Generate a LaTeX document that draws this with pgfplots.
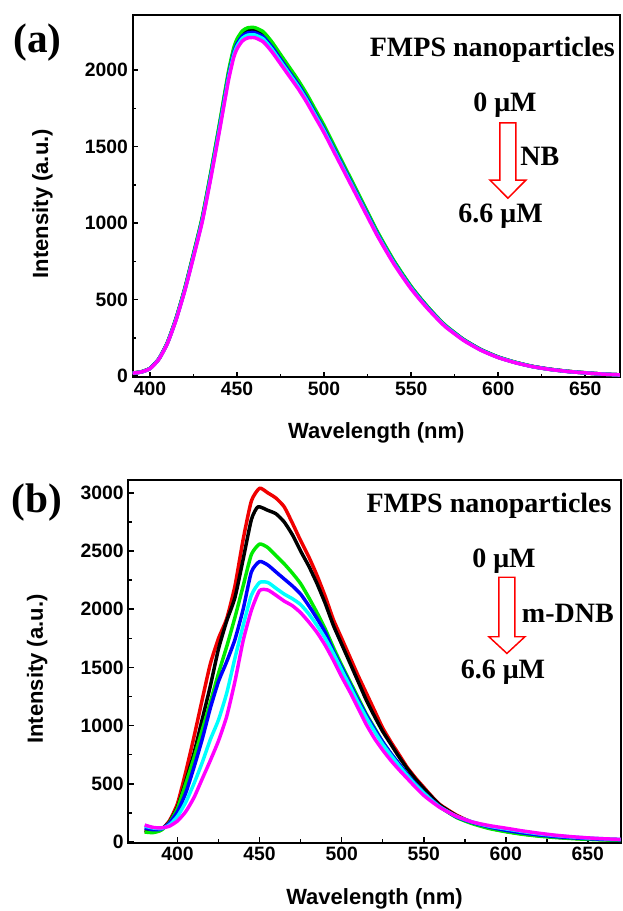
\documentclass[border=0pt]{standalone}
\usepackage{fontspec}
\setmainfont{Liberation Sans}
\newfontfamily\tnr{Liberation Serif}
\usepackage{pgfplots}
\pgfplotsset{compat=1.18}
\definecolor{cgreen}{RGB}{0,235,0}
\definecolor{cblue}{RGB}{0,0,255}
\definecolor{ccyan}{RGB}{0,255,255}
\definecolor{cmag}{RGB}{255,0,255}
\definecolor{cred}{RGB}{240,0,0}
\pgfplotsset{myax/.style={
  scale only axis, clip mode=individual,
  axis line style={line width=1.5pt},
  tick style={line width=1.2pt, black},
  major tick length=4pt, minor tick length=2.5pt,
  tick align=inside, xtick pos=bottom, ytick pos=left,
  minor x tick num=1, minor y tick num=1,
  tick label style={font=\bfseries\fontsize{14.5}{15}\selectfont},
  /pgf/number format/assume math mode=true,
  /pgf/number format/1000 sep={},
  label style={font=\bfseries\fontsize{16.5}{18}\selectfont},
  xlabel={Wavelength (nm)}, ylabel={Intensity (a.u.)},
  every axis x label/.append style={at={(axis description cs:0.5,-0.155)}, anchor=center},
  every axis y label/.append style={at={(axis description cs:-0.185,0.479)}, anchor=center},
  every axis plot/.append style={line width=2.6pt, line join=round, no marks, smooth, tension=0.35},
}}
\newcommand{\ann}[1]{\tnr\bfseries\fontsize{#1}{#1}\selectfont}
\begin{document}
\begin{tikzpicture}
\useasboundingbox (0,0) rectangle (466.5pt,683.25pt);
% ---------------- panel (a)
\begin{axis}[myax, at={(99.5pt,400.5pt)}, anchor=south west,
  width=365.5pt, height=271.5pt,
  xmin=390, xmax=670, ymin=-5, ymax=2360,
  xtick={400,450,...,650}, ytick={0,500,...,2000}]
\addplot[cred] coordinates {(390,20)(395,29)(400,51)(405,112)(410,219)(415,377)(420,570)(425,794)(430,1028)(435,1323)(440,1639)(445,1965)(448,2117)(450,2179)(453,2229)(456,2250)(460,2252)(465,2224)(470,2158)(475,2077)(480,1995)(485,1914)(490,1822)(495,1720)(500,1619)(505,1507)(510,1395)(515,1283)(520,1171)(525,1059)(530,947)(535,845)(540,748)(545,662)(550,580)(555,509)(560,443)(565,382)(570,326)(580,239)(590,173)(600,124)(610,90)(620,63)(630,45)(640,32)(650,22)(660,14)(670,9)};
\addplot[black] coordinates {(390,20)(395,29)(400,51)(405,112)(410,220)(415,378)(420,572)(425,797)(430,1032)(435,1329)(440,1645)(445,1972)(448,2126)(450,2187)(453,2238)(456,2259)(460,2261)(465,2233)(470,2167)(475,2085)(480,2003)(485,1921)(490,1829)(495,1727)(500,1625)(505,1513)(510,1400)(515,1288)(520,1175)(525,1063)(530,950)(535,848)(540,751)(545,664)(550,583)(555,511)(560,445)(565,383)(570,327)(580,240)(590,174)(600,125)(610,90)(620,63)(630,45)(640,32)(650,22)(660,14)(670,9)};
\addplot[cgreen] coordinates {(390,21)(395,29)(400,52)(405,113)(410,221)(415,381)(420,577)(425,803)(430,1040)(435,1339)(440,1658)(445,1988)(448,2142)(450,2204)(453,2256)(456,2276)(460,2278)(465,2251)(470,2184)(475,2101)(480,2019)(485,1936)(490,1844)(495,1741)(500,1638)(505,1524)(510,1411)(515,1298)(520,1185)(525,1071)(530,958)(535,855)(540,757)(545,670)(550,587)(555,515)(560,448)(565,386)(570,330)(580,242)(590,175)(600,126)(610,91)(620,64)(630,45)(640,32)(650,23)(660,14)(670,9)};
\addplot[cblue] coordinates {(390,20)(395,28)(400,51)(405,112)(410,218)(415,376)(420,568)(425,792)(430,1025)(435,1320)(440,1634)(445,1959)(448,2111)(450,2172)(453,2223)(456,2243)(460,2245)(465,2218)(470,2152)(475,2071)(480,1989)(485,1908)(490,1817)(495,1715)(500,1614)(505,1502)(510,1391)(515,1279)(520,1167)(525,1056)(530,944)(535,842)(540,746)(545,660)(550,579)(555,508)(560,442)(565,381)(570,325)(580,239)(590,173)(600,124)(610,89)(620,63)(630,45)(640,31)(650,22)(660,14)(670,9)};
\addplot[ccyan] coordinates {(390,20)(395,28)(400,50)(405,111)(410,217)(415,373)(420,564)(425,786)(430,1018)(435,1310)(440,1623)(445,1945)(448,2097)(450,2157)(453,2208)(456,2228)(460,2230)(465,2204)(470,2137)(475,2056)(480,1976)(485,1895)(490,1804)(495,1704)(500,1603)(505,1492)(510,1381)(515,1270)(520,1159)(525,1048)(530,937)(535,837)(540,741)(545,655)(550,575)(555,504)(560,438)(565,378)(570,323)(580,237)(590,171)(600,123)(610,89)(620,62)(630,44)(640,31)(650,22)(660,14)(670,9)};
\addplot[cmag] coordinates {(390,20)(395,28)(400,50)(405,110)(410,215)(415,370)(420,560)(425,780)(430,1010)(435,1300)(440,1610)(445,1930)(448,2080)(450,2140)(453,2190)(456,2210)(460,2212)(465,2185)(470,2120)(475,2040)(480,1960)(485,1880)(490,1790)(495,1690)(500,1590)(505,1480)(510,1370)(515,1260)(520,1150)(525,1040)(530,930)(535,830)(540,735)(545,650)(550,570)(555,500)(560,435)(565,375)(570,320)(580,235)(590,170)(600,122)(610,88)(620,62)(630,44)(640,31)(650,22)(660,14)(670,9)};
\node[font=\ann{31}] at (axis description cs:-0.195,0.923) {(a)};
\node[anchor=base east, inner sep=0pt, font=\ann{21}] at (axis description cs:0.990,0.885) {FMPS nanoparticles};
\node[font=\ann{21}] at (axis description cs:0.764,0.751) {0 μM};
\draw[red, line width=1.1pt, line join=miter]
  ([xshift=-6pt]axis description cs:0.770,0.702) -- ([xshift=6pt]axis description cs:0.770,0.702)
  -- ([xshift=6pt]axis description cs:0.770,0.544) -- ([xshift=13.5pt]axis description cs:0.770,0.544)
  -- (axis description cs:0.770,0.494) -- ([xshift=-13.5pt]axis description cs:0.770,0.544)
  -- ([xshift=-6pt]axis description cs:0.770,0.544) -- cycle;
\node[anchor=west, inner sep=0pt, font=\ann{21}] at (axis description cs:0.795,0.609) {NB};
\node[font=\ann{21}] at (axis description cs:0.755,0.443) {6.6 μM};
\end{axis}
% ---------------- panel (b)
\begin{axis}[myax, at={(96.2pt,51.2pt)}, anchor=south west,
  width=369.3pt, height=272pt,
  xmin=370, xmax=670, ymin=-7, ymax=3110,
  xtick={400,450,...,650}, ytick={0,500,...,3000}]
\addplot[cred] coordinates {(380,95)(385,85)(390,105)(395,180)(400,330)(405,600)(410,900)(415,1220)(420,1530)(425,1750)(430,1920)(435,2200)(440,2600)(445,2930)(450,3040)(455,3000)(460,2955)(465,2880)(470,2740)(475,2590)(480,2450)(485,2290)(490,2110)(495,1910)(500,1750)(505,1590)(510,1430)(515,1280)(520,1130)(525,980)(530,860)(535,750)(540,640)(545,550)(550,470)(555,390)(560,320)(570,230)(580,165)(590,120)(600,92)(610,70)(620,55)(630,42)(640,33)(650,26)(660,21)(670,18)};
\addplot[black] coordinates {(380,100)(385,90)(390,105)(395,170)(400,300)(405,520)(410,760)(415,1050)(420,1340)(425,1660)(430,1900)(435,2100)(440,2430)(445,2770)(449,2880)(455,2850)(460,2820)(465,2750)(470,2640)(475,2500)(480,2370)(485,2220)(490,2050)(495,1860)(500,1700)(505,1540)(510,1380)(515,1220)(520,1080)(525,950)(530,840)(535,730)(540,630)(545,540)(550,460)(555,385)(560,315)(570,225)(580,165)(590,120)(600,92)(610,70)(620,54)(630,42)(640,33)(650,26)(660,21)(670,18)};
\addplot[cgreen] coordinates {(380,85)(385,80)(390,100)(395,165)(400,290)(405,500)(410,720)(415,960)(420,1200)(425,1450)(430,1680)(435,1930)(440,2200)(445,2470)(450,2560)(455,2530)(460,2460)(465,2390)(470,2310)(475,2220)(480,2100)(485,1970)(490,1830)(495,1670)(500,1520)(505,1380)(510,1240)(515,1100)(520,980)(525,860)(530,760)(535,670)(540,580)(545,500)(550,425)(555,360)(560,300)(570,210)(580,155)(590,115)(600,88)(610,66)(620,50)(630,38)(640,29)(650,22)(660,17)(670,14)};
\addplot[cblue] coordinates {(380,120)(385,105)(390,110)(395,160)(400,260)(405,420)(410,640)(415,880)(420,1150)(425,1380)(430,1550)(435,1740)(440,2000)(445,2320)(450,2410)(455,2380)(460,2320)(465,2260)(470,2200)(475,2130)(480,2030)(485,1920)(490,1800)(495,1640)(500,1500)(505,1360)(510,1220)(515,1090)(520,970)(525,860)(530,760)(535,670)(540,580)(545,500)(550,425)(555,360)(560,300)(570,215)(580,165)(590,128)(600,100)(610,78)(620,60)(630,46)(640,36)(650,28)(660,22)(670,18)};
\addplot[ccyan] coordinates {(380,135)(385,120)(390,115)(395,145)(400,220)(405,340)(410,500)(415,680)(420,880)(425,1050)(430,1280)(435,1580)(440,1860)(445,2120)(450,2230)(455,2230)(460,2180)(465,2130)(470,2090)(475,2040)(480,1960)(485,1860)(490,1750)(495,1620)(500,1480)(505,1340)(510,1200)(515,1070)(520,950)(525,840)(530,745)(535,655)(540,570)(545,490)(550,420)(555,355)(560,300)(570,220)(580,170)(590,135)(600,112)(610,90)(620,70)(630,55)(640,43)(650,34)(660,27)(670,22)};
\addplot[cmag] coordinates {(380,145)(385,125)(390,120)(395,135)(400,180)(405,260)(410,380)(415,540)(420,700)(425,870)(430,1080)(435,1380)(440,1730)(445,1990)(450,2160)(455,2165)(460,2120)(465,2070)(470,2030)(475,1970)(480,1890)(485,1800)(490,1690)(495,1560)(500,1420)(505,1290)(510,1150)(515,1010)(520,890)(525,790)(530,700)(535,620)(540,545)(545,470)(550,400)(555,345)(560,295)(570,220)(580,170)(590,140)(600,118)(610,95)(620,75)(630,58)(640,45)(650,35)(660,27)(670,22)};
\node[font=\ann{31}] at (axis description cs:-0.185,0.937) {(b)};
\node[anchor=base east, inner sep=0pt, font=\ann{21}] at (axis description cs:0.982,0.910) {FMPS nanoparticles};
\node[font=\ann{21}] at (axis description cs:0.763,0.775) {0 μM};
\draw[red, line width=1.1pt, line join=miter]
  ([xshift=-6pt]axis description cs:0.769,0.732) -- ([xshift=6pt]axis description cs:0.769,0.732)
  -- ([xshift=6pt]axis description cs:0.769,0.568) -- ([xshift=13.5pt]axis description cs:0.769,0.568)
  -- (axis description cs:0.769,0.522) -- ([xshift=-13.5pt]axis description cs:0.769,0.568)
  -- ([xshift=-6pt]axis description cs:0.769,0.568) -- cycle;
\node[anchor=west, inner sep=0pt, font=\ann{21}] at (axis description cs:0.799,0.632) {m-DNB};
\node[font=\ann{21}] at (axis description cs:0.761,0.471) {6.6 μM};
\end{axis}
\end{tikzpicture}
\end{document}
